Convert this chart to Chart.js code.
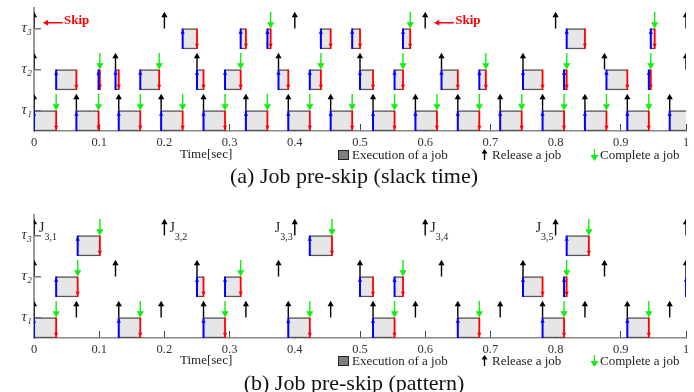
<!DOCTYPE html>
<html>
<head>
<meta charset="utf-8">
<script src="https://cdn.jsdelivr.net/npm/chart.js@4.4.1/dist/chart.umd.min.js"></script>
<style>
  body { margin: 0; background: #fff; }
  #page { position: relative; width: 694px; height: 392px; overflow: hidden;
          font-family: 'Liberation Serif', 'Times New Roman', serif; color: #222; }
  canvas { position: absolute; left: 0; }
  .txt { position: absolute; white-space: nowrap; line-height: 1; }
  .lg { font-size: 13px; }
  .cap { font-size: 22px; left: 0; width: 708px; text-align: center; color: #111; }
  .sq { position: absolute; width: 9px; height: 8px; background: #7f7f7f; border: 1px solid #222; }
  svg { position: absolute; }
</style>
</head>
<body>
<div id="page">
  <canvas id="chart-a" width="694" height="150" style="top:0"></canvas>
  <canvas id="chart-b" width="694" height="150" style="top:207px"></canvas>

  <div class="txt lg" style="left:180px;top:147px">Time[sec]</div>
  <div class="sq" style="left:338px;top:150px"></div>
  <div class="txt lg" style="left:352px;top:148px">Execution of a job</div>
  <svg style="left:481px;top:149px" width="7" height="11"><line x1="3.5" y1="3" x2="3.5" y2="11" stroke="#000" stroke-width="1.3"/><polygon points="0.5,4.5 6.5,4.5 3.5,0" fill="#000"/></svg>
  <div class="txt lg" style="left:492px;top:148px">Release a job</div>
  <svg style="left:590px;top:149px" width="9" height="12"><line x1="4.5" y1="0" x2="4.5" y2="8" stroke="#11ee11" stroke-width="1.3"/><polygon points="0.5,6 8.5,6 4.5,12" fill="#11ee11"/></svg>
  <div class="txt lg" style="left:600px;top:148px">Complete a job</div>
  <div class="txt cap" style="top:165px">(a) Job pre-skip (slack time)</div>

  <div class="txt lg" style="left:180px;top:353px">Time[sec]</div>
  <div class="sq" style="left:338px;top:356px"></div>
  <div class="txt lg" style="left:352px;top:354px">Execution of a job</div>
  <svg style="left:481px;top:355px" width="7" height="11"><line x1="3.5" y1="3" x2="3.5" y2="11" stroke="#000" stroke-width="1.3"/><polygon points="0.5,4.5 6.5,4.5 3.5,0" fill="#000"/></svg>
  <div class="txt lg" style="left:492px;top:354px">Release a job</div>
  <svg style="left:590px;top:355px" width="9" height="12"><line x1="4.5" y1="0" x2="4.5" y2="8" stroke="#11ee11" stroke-width="1.3"/><polygon points="0.5,6 8.5,6 4.5,12" fill="#11ee11"/></svg>
  <div class="txt lg" style="left:600px;top:354px">Complete a job</div>
  <div class="txt cap" style="top:372px">(b) Job pre-skip (pattern)</div>
</div>

<script>
// ─── DATA ────────────────────────────────────────────────────
const tickValues = [0, 0.1, 0.2, 0.3, 0.4, 0.5, 0.6, 0.7, 0.8, 0.9, 1];
const tickLabels = ['0', '0.1', '0.2', '0.3', '0.4', '0.5', '0.6', '0.7', '0.8', '0.9', '1'];
const taskNames = ['τ₁', 'τ₂', 'τ₃'];

// (a) pre-skip by slack time
const aRelease1 = [0, 0.065, 0.13, 0.195, 0.26, 0.325, 0.39, 0.455, 0.52, 0.585, 0.65, 0.715, 0.78, 0.845, 0.91, 0.975];
const aRun1 = [[0, 0.034], [0.065, 0.099], [0.13, 0.163], [0.195, 0.228], [0.26, 0.293], [0.325, 0.358],
               [0.39, 0.423], [0.455, 0.488], [0.52, 0.553], [0.585, 0.618], [0.65, 0.683], [0.715, 0.748],
               [0.78, 0.813], [0.845, 0.878], [0.91, 0.943], [0.975, 1]];
const aDone1 = [0.034, 0.099, 0.163, 0.228, 0.293, 0.358, 0.423, 0.488, 0.553, 0.618, 0.683, 0.748, 0.813, 0.878, 0.943];

const aRelease2 = [0, 0.125, 0.25, 0.375, 0.5, 0.625, 0.75, 0.875, 1];
const aRun2 = [[0.034, 0.065], [0.099, 0.101], [0.125, 0.13], [0.163, 0.192], [0.25, 0.26], [0.293, 0.317],
               [0.375, 0.39], [0.423, 0.44], [0.5, 0.52], [0.553, 0.566], [0.625, 0.65], [0.683, 0.693],
               [0.75, 0.78], [0.813, 0.817], [0.878, 0.91], [0.943, 0.946]];
const aDone2 = [0.101, 0.192, 0.317, 0.44, 0.566, 0.693, 0.817, 0.946];

const aRelease3 = [0, 0.2, 0.4, 0.6, 0.8, 1];
const aRun3 = [[0.228, 0.25], [0.317, 0.325], [0.358, 0.363], [0.44, 0.455], [0.488, 0.5], [0.566, 0.577],
               [0.817, 0.845], [0.946, 0.952]];
const aDone3 = [0.363, 0.577, 0.952];
const aSkip3 = [0, 0.6];

// (b) pre-skip by pattern
const bRelease1 = [0, 0.065, 0.13, 0.195, 0.26, 0.325, 0.39, 0.455, 0.52, 0.585, 0.65, 0.715, 0.78, 0.845, 0.91, 0.975];
const bRun1 = [[0, 0.034], [0.13, 0.163], [0.26, 0.293], [0.39, 0.423], [0.52, 0.553], [0.65, 0.683], [0.78, 0.813], [0.91, 0.943]];
const bDone1 = [0.034, 0.163, 0.293, 0.423, 0.553, 0.683, 0.813, 0.943];

const bRelease2 = [0, 0.125, 0.25, 0.375, 0.5, 0.625, 0.75, 0.875, 1];
const bRun2 = [[0.034, 0.067], [0.25, 0.26], [0.293, 0.317], [0.5, 0.52], [0.553, 0.566], [0.75, 0.78], [0.813, 0.817], [1, 1]];
const bDone2 = [0.067, 0.317, 0.566, 0.817];

const bRelease3 = [0, 0.2, 0.4, 0.6, 0.8, 1];
const bRun3 = [[0.067, 0.101], [0.423, 0.457], [0.817, 0.851]];
const bDone3 = [0.101, 0.457, 0.851];
const bJobNames = ['3,1', '3,2', '3,3', '3,4', '3,5'];
const bJobSide = ['right', 'right', 'left', 'right', 'left'];

// ─── DRAWING ─────────────────────────────────────────────────
const SERIF = "'Liberation Serif', 'DejaVu Serif', serif";
const rowTicks = [0.5, 1.5, 2.5];
Chart.defaults.devicePixelRatio = 1;

function arrowSet(data, color, width, radius, rotation) {
  return {
    type: 'line',
    data,
    borderColor: color,
    borderWidth: width,
    pointStyle: 'triangle',
    pointBackgroundColor: color,
    pointBorderWidth: 0,
    pointRadius: ctx => (ctx.raw && ctx.raw.h ? radius : 0),
    pointHoverRadius: 0,
    pointRotation: rotation,
    tension: 0,
    fill: false,
    spanGaps: false,
    order: 1
  };
}

function buildDatasets(tasks, skips) {
  const boxes = [], starts = [], ends = [], rel = [], fin = [], skip = [];
  tasks.forEach((t, row) => {
    t.run.forEach(([s, e]) => {
      boxes.push({ y: row + 0.25, x: [s, e] });
      starts.push({ x: s, y: row }, { x: s, y: row + 0.4, h: 1 }, { x: s, y: row + 0.5 }, { x: s, y: null });
      if (e < 1) ends.push({ x: e, y: row + 0.5 }, { x: e, y: row + 0.1, h: 1 }, { x: e, y: row }, { x: e, y: null });
    });
    t.release.forEach(r => rel.push({ x: r, y: row + 0.5 }, { x: r, y: row + 0.82, h: 1 }, { x: r, y: null }));
    t.done.forEach(d => fin.push({ x: d, y: row + 0.9 }, { x: d, y: row + 0.6, h: 1 }, { x: d, y: null }));
  });
  skips.forEach(t => skip.push({ x: t + 0.044, y: 2.64 }, { x: t + 0.019, y: 2.64, h: 1 }, { x: t, y: null }));

  return [
    {
      type: 'bar', indexAxis: 'y', data: boxes,
      backgroundColor: '#e6e6e6', borderColor: '#555',
      borderWidth: { top: 1.5, bottom: 1.5, left: 0, right: 0 }, borderSkipped: false,
      barThickness: 20.5, order: 10
    },
    arrowSet(starts, '#0000ff', 2, 2.5, 0),
    arrowSet(ends, '#ff0000', 1.8, 2.5, 180),
    arrowSet(rel, '#000000', 1.4, 3.6, 0),
    arrowSet(fin, '#11ee11', 1.4, 4.2, 180),
    arrowSet(skip, '#ff0000', 1.4, 3.5, -90)
  ];
}

function notesPlugin(skips, jobTimes) {
  return {
    id: 'notes',
    afterDatasetsDraw(chart) {
      const { ctx, scales: { x, y } } = chart;
      ctx.save();
      ctx.textBaseline = 'alphabetic';
      skips.forEach(t => {
        ctx.fillStyle = '#ff0000';
        ctx.font = 'bold 13px ' + SERIF;
        ctx.textAlign = 'left';
        ctx.fillText('Skip', x.getPixelForValue(t) + 30, y.getPixelForValue(2.6));
      });
      const top = y.getPixelForValue(2.5);
      jobTimes.forEach((t, i) => {
        ctx.fillStyle = '#222';
        const px = x.getPixelForValue(t);
        ctx.font = '14px ' + SERIF;
        const jw = ctx.measureText('J').width;
        ctx.font = '10px ' + SERIF;
        const sw = ctx.measureText(bJobNames[i]).width;
        const left = bJobSide[i] === 'right' ? px + 5 : px - 2 - sw - jw;
        ctx.textAlign = 'left';
        ctx.font = '14px ' + SERIF;
        ctx.fillText('J', left, top - 4);
        ctx.font = '10px ' + SERIF;
        ctx.fillText(bJobNames[i], left + jw, top + 4.5);
      });
      ctx.restore();
    }
  };
}

function makePanel(id, tasks, skips, jobTimes) {
  return new Chart(document.getElementById(id), {
    type: 'line',
    data: { datasets: buildDatasets(tasks, skips) },
    plugins: [notesPlugin(skips, jobTimes)],
    options: {
      responsive: false,
      animation: false,
      events: [],
      layout: { padding: { top: 8, right: 8, left: 0, bottom: 0 } },
      plugins: { legend: { display: false }, tooltip: { enabled: false } },
      scales: {
        x: {
          type: 'linear', min: 0, max: 1, offset: false,
          afterBuildTicks: s => { s.ticks = tickValues.map(v => ({ value: v })); },
          afterFit: s => { s.height = 19; s.paddingLeft = 0; s.paddingRight = 0; },
          ticks: {
            autoSkip: false, maxRotation: 0, padding: 11, color: '#333',
            font: { family: SERIF, size: 12.5 },
            callback: (v, i) => tickLabels[i]
          },
          grid: { offset: false, drawOnChartArea: false, drawTicks: true, tickLength: -7, color: '#444', lineWidth: 1 },
          border: { display: true, color: '#888', width: 1.5 }
        },
        y: {
          type: 'linear', min: 0, max: 3, offset: false,
          afterBuildTicks: s => { s.ticks = rowTicks.map(v => ({ value: v })); },
          afterFit: s => { s.width = 34; s.paddingTop = 0; s.paddingBottom = 0; },
          ticks: {
            padding: 9, color: '#333',
            font: { family: SERIF, size: 15, style: 'italic' },
            callback: (v, i) => taskNames[i]
          },
          grid: { offset: false, drawOnChartArea: false, drawTicks: true, tickLength: -7, color: '#777', lineWidth: 1.5 },
          border: { display: true, color: '#999', width: 2 }
        }
      }
    }
  });
}

makePanel('chart-a', [
  { release: aRelease1, run: aRun1, done: aDone1 },
  { release: aRelease2, run: aRun2, done: aDone2 },
  { release: aRelease3, run: aRun3, done: aDone3 }
], aSkip3, []);

makePanel('chart-b', [
  { release: bRelease1, run: bRun1, done: bDone1 },
  { release: bRelease2, run: bRun2, done: bDone2 },
  { release: bRelease3, run: bRun3, done: bDone3 }
], [], bRelease3.slice(0, 5));
</script>
</body>
</html>
